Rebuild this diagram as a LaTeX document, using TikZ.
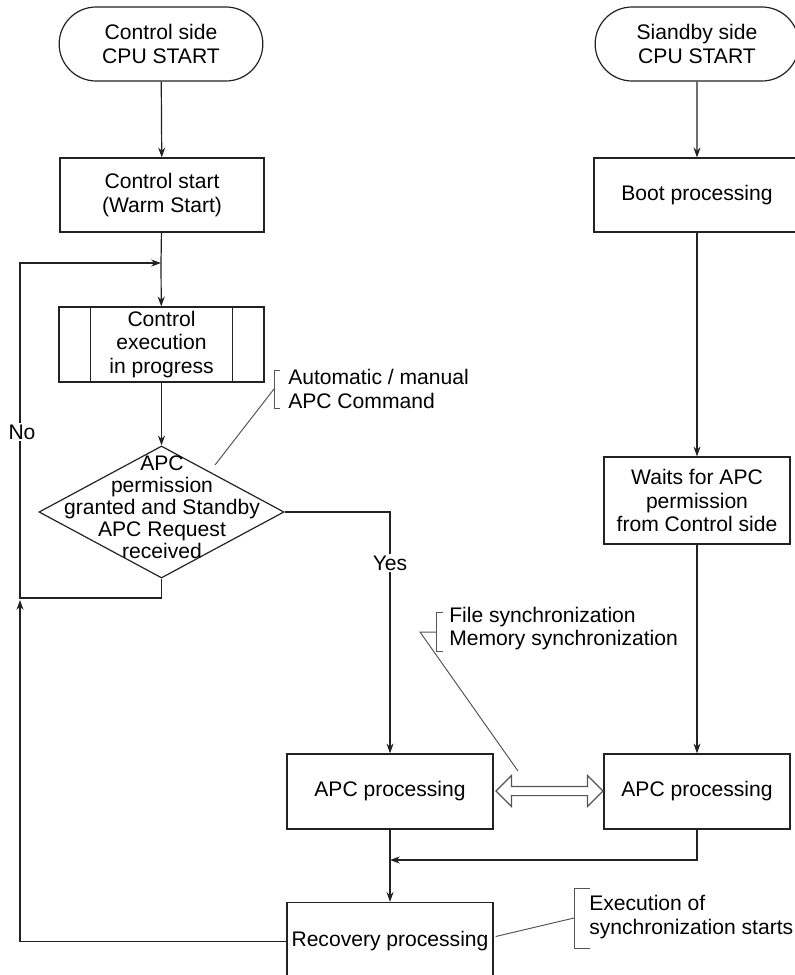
\documentclass[tikz,border=0pt]{standalone}
\usepackage{fontspec}
\setmainfont{Liberation Sans}
\usepackage{tikz}
\usetikzlibrary{arrows.meta,calc,shapes.geometric,shapes.misc,shapes.arrows}
\definecolor{linecol}{HTML}{222222}
\definecolor{notecol}{HTML}{555555}

\begin{document}
\begin{tikzpicture}[x=0.025cm,y=-0.025cm,
  font=\fontsize{15}{17}\selectfont,
  line/.style={draw=linecol,line width=0.85pt},
  flow/.style={line,-{Stealth[length=7pt,width=5pt]}},
  proc/.style={line,rectangle,minimum width=5.15cm,minimum height=1.875cm,
               inner sep=2pt,align=center},
  term/.style={line,rounded rectangle,minimum width=5.325cm,minimum height=1.85cm,
               align=center},
  lbl/.style={fill=white,inner sep=1pt},
  note/.style={anchor=west,align=left,inner sep=0pt},
  leader/.style={draw=notecol,line width=0.7pt},
]
\useasboundingbox (0,0) rectangle (795,975);

% left: control side
\node[term] (ctlcpu) at (161,44) {Control side\\CPU START};
\node[proc,minimum width=5.1cm,minimum height=1.85cm] (ctlstart) at (162,195) {Control start\\(Warm Start)};
\node[proc,minimum width=5.125cm] (cexec) at (161.5,344.5) {Control\\execution\\in progress};
\draw[line] ([xshift=0.8cm]cexec.north west) -- ([xshift=0.8cm]cexec.south west);
\draw[line] ([xshift=-0.8cm]cexec.north east) -- ([xshift=-0.8cm]cexec.south east);
\node[line,diamond,minimum width=6.125cm,minimum height=3.3cm,inner sep=0pt] (dia) at (161.5,512) {};
\node[align=center,font=\fontsize{15}{15.6}\selectfont] (diatext) at (162,507)
  {APC\\permission\\granted and Standby\\APC Request\\received};
\node[proc] (apcL) at (390,791.5) {APC processing};
\node[proc,minimum height=1.95cm] (recov) at (390,941.5) {Recovery processing};

% right: standby side
\node[term] (sbycpu) at (697,44) {Siandby side\\CPU START};
\node[proc,minimum height=1.85cm] (boot) at (697,195) {Boot processing};
\node[proc,minimum width=4.65cm,minimum height=2.175cm] (wait) at (697,500.5)
  {Waits for APC\\permission\\from Control side};
\node[proc,minimum width=4.65cm] (apcR) at (697,791.5) {APC processing};

% connectors
\coordinate (loopin) at (161,263);
\coordinate (nobot) at (20,598);
\coordinate (notop) at (20,263);
\coordinate (recup) at (20,600);
\coordinate (merge) at (390,860);
\draw[flow] (ctlcpu) -- (ctlstart);
\draw[line] (ctlstart) -- (loopin);
\draw[flow] (loopin) -- (cexec);
\draw[flow] (cexec) -- (dia);
\draw[flow] (dia.south) |- (nobot) -- (notop) -- (loopin);
\node[lbl] (nolbl) at (22,432) {No};
\draw[flow] (dia.east) -| (apcL.north);
\node[lbl] (yeslbl) at (390,563) {Yes};
\draw[flow] (sbycpu) -- (boot);
\draw[flow] (boot) -- (wait);
\draw[flow] (wait) -- (apcR);
\draw[flow] (apcL) -- (recov);
\draw[flow] (apcR.south) |- (merge);
\draw[flow] (recov.west) -| (recup);
\node[double arrow,draw=notecol,line width=0.8pt,fill=white,inner sep=0.1cm,
      double arrow head extend=0.275cm,minimum height=2.675cm] (sync) at (549.5,791) {};

% notes
\node[note] (autonote) at (288,389) {Automatic / manual\\APC Command};
\draw[leader] (280,370) -- (274,370) -- (274,408) -- (280,408);
\coordinate (autobr) at (274,389);
\coordinate (autotip) at (215,465);
\draw[leader] (autobr) -- (autotip);

\node[note] (syncnote) at (449,628.5) {File synchronization\\Memory synchronization};
\draw[leader] (443,612) -- (436,612) -- (436,651) -- (443,651);
\coordinate (syncbr) at (436,632);
\coordinate (synctip) at (518,771);
\draw[leader] (syncbr) -- (420,632) -- (synctip);

\node[note] (execnote) at (589,917) {Execution of\\synchronization starts};
\draw[leader] (590,888) -- (574,888) -- (574,948) -- (590,948);
\coordinate (execbr) at (574,918);
\draw[leader] (execbr) -- ($(recov.east)+(2,-5)$);
\end{tikzpicture}
\end{document}
